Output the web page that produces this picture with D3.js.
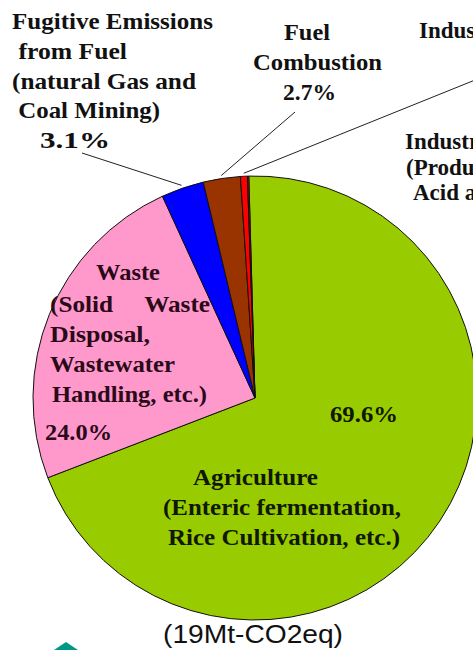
<!DOCTYPE html>
<html>
<head>
<meta charset="utf-8">
<script src="https://cdn.jsdelivr.net/npm/d3@7/dist/d3.min.js"></script>
<style>
  html, body { margin: 0; padding: 0; background: #ffffff; }
  svg { display: block; }
</style>
</head>
<body>
<svg id="chart" width="473" height="650"></svg>
<script>
// ---- data ----
const categories = ["Agriculture", "Waste", "Fugitive Emissions from Fuel", "Fuel Combustion", "Industrial Processes", "Industrial Processes (Production)"];
const values = [69.6, 24.0, 3.1, 2.7, 0.5, 0.1];
const colors = ["#99cc00", "#ff99cc", "#0000ff", "#993300", "#ff0000", "#cc0000"];
const totalLabel = "(19Mt-CO2eq)";

// label text lines per category (same order as categories)
const labelLines = [
  ["69.6%", "Agriculture", "(Enteric fermentation,", "Rice Cultivation, etc.)"],
  ["Waste", "(Solid     Waste", "Disposal,", "Wastewater", "Handling, etc.)", "24.0%"],
  ["Fugitive Emissions", " from Fuel", "(natural Gas and", " Coal Mining)", "3.1%"],
  ["Fuel", "Combustion", "2.7%"],
  ["Industrial Processes 0.5%"],
  ["Industrial Processes", "(Production of Nitric", "Acid and others)"]
];

// ---- layout (positions / styles) ----
const cx = 255, cy = 398, R = 222;
const rot = -0.028;

const svg = d3.select("#chart");

const pie = d3.pie().sort(null).value(d => d).startAngle(rot).endAngle(2 * Math.PI + rot);
const arc = d3.arc().innerRadius(0).outerRadius(R);
const arcs = pie(values);

const g = svg.append("g").attr("transform", `translate(${cx},${cy})`);
g.selectAll("path")
  .data(arcs)
  .join("path")
  .attr("d", arc)
  .attr("fill", (d, i) => colors[i])
  .attr("stroke", "#111")
  .attr("stroke-width", 1);

// leader lines: [category index, label end point, fraction along outer arc]
const outerPoint = (d, r) => {
  const a = (d.startAngle + d.endAngle) / 2;
  return [cx + r * Math.sin(a), cy - r * Math.cos(a)];
};
const leaders = [
  { i: 2, from: [82, 153] },
  { i: 3, from: [295, 112] },
  { i: 4, from: [485, 76] }
];
leaders.forEach(l => {
  const p = outerPoint(arcs[l.i], R + 3);
  svg.append("line")
    .attr("x1", l.from[0]).attr("y1", l.from[1])
    .attr("x2", p[0]).attr("y2", p[1])
    .attr("stroke", "#222").attr("stroke-width", 1);
});

// label placements: x, y(baseline), anchor, optional textLength for each line
const labelLayout = [
  { lines: [[330, 422, 68], [193, 485, 125], [163, 515, 238], [168, 545, 232]], color: "#101800" },
  { lines: [[96, 280, 64], [50, 312, 160], [50, 342, 100], [50, 372, 125], [52, 402, 155], [45, 440, 67]], color: "#2a0a18" },
  { lines: [[12, 29, 201], [12, 59, 115], [12, 89, 184], [12, 118, 148], [40, 148, 70]], color: "#111" },
  { lines: [[284, 40, 46], [253, 70, 129], [283, 100, 53]], color: "#111" },
  { lines: [[419, 38, null]], color: "#111" },
  { lines: [[405, 149, null], [406, 175, null], [413, 200, null]], color: "#111" }
];

labelLayout.forEach((lay, ci) => {
  lay.lines.forEach((ln, k) => {
    const t = svg.append("text")
      .attr("x", ln[0]).attr("y", ln[1])
      .attr("font-family", "'Liberation Serif', 'Times New Roman', serif")
      .attr("font-weight", "bold")
      .attr("font-size", 23)
      .attr("fill", lay.color)
      .attr("xml:space", "preserve")
      .style("white-space", "pre")
      .text(labelLines[ci][k]);
    if (ln[2]) t.attr("textLength", ln[2]).attr("lengthAdjust", "spacingAndGlyphs");
  });
});

svg.append("text")
  .attr("x", 253).attr("y", 643)
  .attr("text-anchor", "middle")
  .attr("font-family", "'Liberation Sans', Arial, sans-serif")
  .attr("font-size", 25)
  .attr("fill", "#111")
  .attr("textLength", 180)
  .attr("lengthAdjust", "spacingAndGlyphs")
  .text(totalLabel);

// small teal decoration at bottom-left
svg.append("path")
  .attr("d", "M54,650 L66,642 L78,650 Z")
  .attr("fill", "#009988");
</script>
</body>
</html>
